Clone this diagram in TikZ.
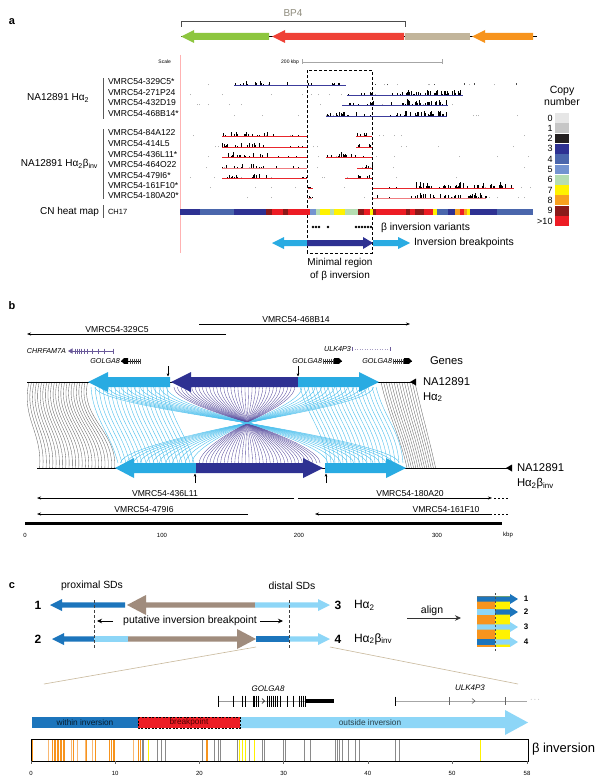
\documentclass[tikz,border=0pt]{standalone}
\usepackage{fontspec}
\setmainfont{Liberation Sans}
\usetikzlibrary{arrows.meta}
\newcommand\fsz[1]{\fontsize{#1}{#1}\selectfont}
\definecolor{ggreen}{HTML}{8DC63F}
\definecolor{gred}{HTML}{EF4136}
\definecolor{gtan}{HTML}{C2B59B}
\definecolor{gorange}{HTML}{F7941D}
\definecolor{bpgray}{HTML}{8E8B7C}
\definecolor{trkblue}{HTML}{3C3C9C}
\definecolor{trkred}{HTML}{E8262C}
\definecolor{trkpink}{HTML}{F07C80}
\definecolor{cn0}{HTML}{E6E6E6}
\definecolor{cn1}{HTML}{C6C6C6}
\definecolor{cn2}{HTML}{231F20}
\definecolor{cn3}{HTML}{2E3192}
\definecolor{cn4}{HTML}{4A66AC}
\definecolor{cn5}{HTML}{7393D0}
\definecolor{cn6}{HTML}{B5DDB2}
\definecolor{cn7}{HTML}{FFF200}
\definecolor{cn8}{HTML}{F7A01F}
\definecolor{cn9}{HTML}{8B1A1A}
\definecolor{cn10}{HTML}{ED1C24}
\definecolor{lblue}{HTML}{29ABE2}
\definecolor{lbln}{HTML}{4CC0EE}
\definecolor{navy}{HTML}{2E3192}
\definecolor{navyln}{HTML}{5A4FA0}
\definecolor{dblue}{HTML}{1C75BC}
\definecolor{pblue}{HTML}{8DD6F7}
\definecolor{cbrown}{HTML}{A08C7D}
\definecolor{zoomtan}{HTML}{C9B99C}
\definecolor{purpln}{HTML}{6A5A9A}
\definecolor{vorange}{HTML}{F7941D}
\definecolor{vlorange}{HTML}{F9B872}
\definecolor{vgray}{HTML}{8A8A8A}
\definecolor{vyellow}{HTML}{FFF200}
% block arrows: tail x, tip x, y, shaft half, head half, head length, colour
\newcommand\ArrR[7]{\fill[#7] (#1,#3-#4) -- (#2-#6,#3-#4) -- (#2-#6,#3-#5) -- (#2,#3) -- (#2-#6,#3+#5) -- (#2-#6,#3+#4) -- (#1,#3+#4) -- cycle;}
\newcommand\ArrL[7]{\fill[#7] (#2,#3-#4) -- (#1+#6,#3-#4) -- (#1+#6,#3-#5) -- (#1,#3) -- (#1+#6,#3+#5) -- (#1+#6,#3+#4) -- (#2,#3+#4) -- cycle;}
\newcommand\histo[6]{\foreach \kk in {1,...,#4}{\pgfmathsetmacro\hx{#1+rnd*(#2-#1)}\pgfmathsetmacro\hh{0.6+rnd*#5}\draw[#6,line width=0.45pt] (\hx,#3) -- (\hx,#3-\hh);}}
\newcommand\crossln[3]{\draw[#3] (#1,387) .. controls (#1,400) and ({247+(#1-247)*0.35},414) .. (247,423) .. controls ({247+(#2-247)*0.35},432) and (#2,450) .. (#2,463);}
\begin{document}
\begin{tikzpicture}[x=1pt,y=-1pt,
  every node/.style={inner sep=0pt,outer sep=0pt},
  clab/.style={font=\fsz{8.6},anchor=west},
  blab/.style={font=\fsz{8.6}},
  glab/.style={font=\itshape\fsz{7.2}},
  tlab/.style={font=\fsz{6}},
  glin/.style={color=black!60,line width=0.35pt},
  lbthin/.style={color=lbln,line width=0.4pt},
  nvthin/.style={color=navyln,line width=0.35pt},
  clone/.style={line width=0.6pt,-{Stealth[length=4pt,width=3pt]}},
  tinyarr/.style={line width=0.45pt,-{Stealth[length=3.2pt,width=2.6pt]}},
  dsh/.style={dash pattern=on 3pt off 2pt,line width=0.5pt},
  pnl/.style={font=\bfseries\fsz{11}}]
\useasboundingbox (0,0) rectangle (603,784);
\fill[white] (0,0) rectangle (603,784);
\pgfmathsetseed{42}
% ================= panel a =================
\node[pnl] (pa) at (12,22) {a};
\node[font=\fsz{10},text=bpgray] (bp4) at (293,13) {BP4};
\draw[black!70,line width=0.6pt] (181,27) -- (181,21) -- (405,21) -- (405,27);
\draw[black,line width=0.5pt] (181,36.5) -- (537,36.5);
\ArrL{181}{269}{36.5}{3.5}{6.5}{13}{ggreen}
\ArrL{272}{404}{36.5}{3.5}{6.5}{13}{gred}
\fill[gtan] (405,33) rectangle (470,40);
\ArrL{472}{533}{36.5}{3.5}{6.5}{13}{gorange}
\node[font=\fsz{5},anchor=east] (scl) at (171,62) {Scale};
\node[font=\fsz{5},anchor=east] (kbp) at (299,62) {200 kbp};
\draw[black!35,line width=0.6pt] (302,62) -- (442,62) (302,59.5) -- (302,64.5) (442,59.5) -- (442,64.5);
\draw[red!30,line width=0.5pt] (180,55) -- (180,253);
\draw[dsh] (307,253) -- (307,70) -- (372,70) -- (372,253) -- cycle;
% group labels
\node[font=\fsz{10},anchor=east] (g1) at (89,98) {NA12891 Hα\textsubscript{2}};
\node[font=\fsz{10},anchor=east] (g2) at (98,164) {NA12891 Hα\textsubscript{2}β\textsubscript{inv}};
\node[font=\fsz{10},anchor=east] (g3) at (99,212) {CN heat map};
\node[font=\fsz{7.5},anchor=west] (ch) at (108,212) {CH17};
\draw[black!65,line width=0.8pt] (103,78) -- (103,119) (103,129) -- (103,199) (103,205) -- (103,218);
\node[clab] (c1) at (108,82) {VMRC54-329C5*};
\node[clab] (c2) at (108,92.5) {VMRC54-271P24};
\node[clab] (c3) at (108,103) {VMRC54-432D19};
\node[clab] (c4) at (108,113.5) {VMRC54-468B14*};
\node[clab] (c5) at (108,133) {VMRC54-84A122};
\node[clab] (c6) at (108,144) {VMRC54-414L5};
\node[clab] (c7) at (108,155) {VMRC54-436L11*};
\node[clab] (c8) at (108,165) {VMRC54-464O22};
\node[clab] (c9) at (108,175.5) {VMRC54-479I6*};
\node[clab] (c10) at (108,186) {VMRC54-161F10*};
\node[clab] (c11) at (108,196) {VMRC54-180A20*};
% faint background ticks
\foreach \yy in {85,95,105,116,136,147,157,168,178,188,198}{\histo{185}{530}{\yy}{9}{0.6}{black!30}}
% Halpha2 tracks
\draw[trkblue,line width=0.6pt] (234,85) -- (346,85);
\histo{234}{346}{85}{14}{2.5}{black}\histo{240}{270}{85}{8}{4}{black}
\histo{350}{530}{85}{7}{1.5}{black!70}
\draw[trkblue,line width=0.6pt] (347,95) -- (463,95);
\histo{347}{463}{95}{20}{3}{black}\histo{405}{460}{95}{30}{5}{black}
\draw[trkblue,line width=0.6pt] (342,105) -- (448,105);
\histo{342}{448}{105}{18}{3}{black}\histo{405}{448}{105}{22}{5}{black}
\draw[trkblue,line width=0.6pt] (326,116) -- (447,116);
\histo{326}{447}{116}{18}{3}{black}\histo{405}{447}{116}{22}{5}{black}\histo{335}{345}{116}{6}{4}{black}
% Halpha2beta tracks
\foreach \yy/\cc in {136/trkred,147/trkred,157/trkred,168/trkpink,178/trkred}{
  \draw[\cc,line width=0.6pt] (222,\yy) -- (307,\yy);
  \histo{222}{268}{\yy}{16}{4}{black}\histo{268}{307}{\yy}{3}{1.5}{black}}
\draw[trkred,line width=0.6pt] (356,136) -- (372,136) (356,147) -- (372,147) (357,168) -- (372,168) (345,178) -- (372,178);
\draw[trkred,line width=0.6pt] (326,157) -- (372,157);
\foreach \yy in {136,147,168,178}{\histo{356}{372}{\yy}{5}{3}{black}}
\histo{326}{372}{157}{9}{3}{black}\histo{336}{346}{157}{6}{4}{black}
\draw[trkred,line width=0.6pt] (308,188) -- (313,188) (373,188) -- (514,188);
\draw[trkpink,line width=0.6pt] (308,198) -- (312,198) (373,198) -- (486,198);
\histo{308}{313}{188}{3}{2}{black}\histo{308}{312}{198}{3}{2}{black}
\histo{373}{514}{188}{14}{2.5}{black}\histo{415}{514}{188}{40}{5}{black}
\histo{373}{486}{198}{12}{2.5}{black}\histo{415}{486}{198}{30}{4}{black}
% heat map
\foreach \a/\b/\c in {180/200/cn3,200/234/cn4,234/266/cn3,266/272/cn9,272/283/cn10,283/288/cn9,288/310/cn10,310/316/cn5,316/320/cn6,320/330/cn7,330/334/cn6,334/345/cn7,345/358/cn6,358/364/cn9,364/370/cn10,370/373/cn7,373/376/cn9,376/406/cn10,406/410/cn9,410/415/cn10,415/424/cn9,424/433/cn10,433/437/cn7,437/448/cn4,448/455/cn3,455/460/cn8,460/464/cn10,464/467/cn8,467/470/cn7,470/497/cn3,497/533/cn4}{\fill[\c] (\a,209) rectangle (\b,215);}
% legend
\node[font=\fsz{10.5}] (cp1) at (562,91) {Copy};
\node[font=\fsz{10.5}] (cp2) at (562,102) {number};
\foreach \n/\t in {0/0,1/1,2/2,3/3,4/4,5/5,6/6,7/7,8/8,9/9,10/>10}{
  \fill[cn\n] (555,113+\n*10.3) rectangle (569,113+\n*10.3+9.8);
  \node[font=\fsz{9},anchor=east] (lg\n) at (552.5,118+\n*10.3) {\t};}
% variants and breakpoints
\foreach \x in {313,316,319,328,356,359,362,365,368,371}{\fill[black] (\x,227) circle (1.3);}
\node[font=\fsz{10.3},anchor=west] (biv) at (381,227.5) {β inversion variants};
\ArrL{272}{307}{243}{3}{6}{12}{lblue}
\ArrR{307}{373}{243}{3}{6}{10}{navy}
\ArrR{373}{410}{243}{3}{6}{12}{lblue}
\node[font=\fsz{10.5},anchor=west] (ibp) at (414,243) {Inversion breakpoints};
\node[font=\fsz{10}] (mr1) at (340,263) {Minimal region};
\node[font=\fsz{10}] (mr2) at (340,276) {of β inversion};
% ================= panel b =================
\node[pnl] (pb) at (12,306) {b};
\draw[clone] (199,324) -- (410,324);
\node[blab] (b1) at (296,320) {VMRC54-468B14};
\draw[clone] (226,334) -- (27,334);
\node[blab] (b2) at (117,330) {VMRC54-329C5};
% genes
\node[glab,anchor=east] (chr) at (66,351) {CHRFAM7A};
\draw[purpln,line width=0.5pt] (70,351) -- (113,351);
\fill[purpln] (68,351) -- (72.5,348.3) -- (72.5,353.7) -- cycle;
\foreach \x in {75,77,79,81,84,87,92,98,104,113}{\draw[purpln,line width=0.5pt] (\x,348.5) -- (\x,353.5);}
\node[glab,anchor=east] (ulk) at (351,349) {ULK4P3};
\draw[purpln!60,line width=0.5pt,dotted] (352,349) -- (390,349);
\draw[purpln,line width=0.5pt] (352,347) -- (352,351) (390,347) -- (390,351);
\node[glab,anchor=east] (gb1) at (120,361) {GOLGA8};
\draw[black,line width=0.4pt] (121,361) -- (140,361);
\fill[black] (121,361) -- (124,358.2) -- (128,358.2) -- (128,363.8) -- (124,363.8) -- cycle;
\foreach \x in {130,132,134,136,138,140}{\draw[black!70,line width=0.6pt] (\x,358.5) -- (\x,363.5);}
\node[glab,anchor=east] (gb2) at (322,361) {GOLGA8};
\draw[black,line width=0.4pt] (323,361) -- (342,361);
\foreach \x in {323,325,327,329,331,333}{\draw[black!70,line width=0.6pt] (\x,358.5) -- (\x,363.5);}
\fill[black] (334,358.2) -- (339,358.2) -- (342,361) -- (339,363.8) -- (334,363.8) -- cycle;
\node[glab,anchor=east] (gb3) at (392,361) {GOLGA8};
\draw[black,line width=0.4pt] (393,361) -- (412,361);
\foreach \x in {393,395,397,399,401,403}{\draw[black!70,line width=0.6pt] (\x,358.5) -- (\x,363.5);}
\fill[black] (404,358.2) -- (409,358.2) -- (412,361) -- (409,363.8) -- (404,363.8) -- cycle;
\node[font=\fsz{11.2},anchor=west] (genes) at (430,361) {Genes};
% connecting lines
\foreach \ii in {0,...,23}{
  \pgfmathsetmacro\xt{29+\ii*2.55}\pgfmathsetmacro\xb{37+(\xt-27)*1.28}
  \draw[glin] (\xt,382) .. controls (\xt-8,418) and (\xb+3,432) .. (\xb,468);}
\foreach \ii in {0,...,13}{
  \pgfmathsetmacro\xt{381+\ii*2.6}\pgfmathsetmacro\xb{407+\ii*2.2}
  \draw[glin] (\xt,382) .. controls (\xt+8,418) and (\xb-8,432) .. (\xb,468);}
\foreach \ii in {0,...,19}{
  \pgfmathsetmacro\xt{91+\ii*4}\pgfmathsetmacro\xb{\xt+27}
  \draw[lbthin] (\xt,387) .. controls (\xt+2,418) and (\xb-8,432) .. (\xb,463);
  \pgfmathsetmacro\xu{300+\ii*4}\pgfmathsetmacro\xv{\xu+27}
  \draw[lbthin] (\xu,387) .. controls (\xu+8,418) and (\xv-2,432) .. (\xv,463);}
\foreach \ii in {0,...,34}{
  \pgfmathsetmacro\xt{174+\ii*3.55}\pgfmathsetmacro\xb{494-\xt}
  \crossln{\xt}{\xb}{nvthin}}
\foreach \ii in {0,...,11}{
  \pgfmathsetmacro\xt{95+\ii*6.5}\pgfmathsetmacro\xb{494-\xt}
  \crossln{\xt}{\xb}{lbthin}
  \pgfmathsetmacro\xu{302+\ii*6.5}\pgfmathsetmacro\xv{494-\xu}
  \crossln{\xu}{\xv}{lbthin}}
% chromosome lines and arrows
\draw[black,line width=0.6pt] (27,382) -- (416,382);
\fill[black] (416,378.5) -- (416,385.5) -- (410,382) -- cycle;
\ArrL{88}{170}{382}{5}{10}{20}{lblue}
\ArrL{171}{298}{382}{5}{10}{20}{navy}
\ArrR{298}{379}{382}{5}{10}{20}{lblue}
\draw[black,line width=0.6pt] (37,468) -- (512,468);
\fill[black] (512,464.5) -- (512,471.5) -- (506,468) -- cycle;
\ArrL{115}{196}{468}{5}{10}{19}{lblue}
\ArrR{196}{323}{468}{5}{10}{20}{navy}
\ArrR{325}{406}{468}{5}{10}{20}{lblue}
\coordinate (da1) at (168,366); \coordinate (da2) at (168,376.5);
\coordinate (db1) at (298,366); \coordinate (db2) at (298,376.5);
\coordinate (ua1) at (195,483); \coordinate (ua2) at (195,473.5);
\coordinate (ub1) at (326,483); \coordinate (ub2) at (326,473.5);
\draw[tinyarr] (da1) -- (da2);
\draw[tinyarr] (db1) -- (db2);
\draw[tinyarr] (ua1) -- (ua2);
\draw[tinyarr] (ub1) -- (ub2);
\node[font=\fsz{11.3},anchor=west] (h1a) at (423,382) {NA12891};
\node[font=\fsz{11.3},anchor=west] (h1b) at (423,397) {Hα\textsubscript{2}};
\node[font=\fsz{11.3},anchor=west] (h2a) at (517,468) {NA12891};
\node[font=\fsz{11.3},anchor=west] (h2b) at (517,484) {Hα\textsubscript{2}β\textsubscript{inv}};
% clones below
\draw[clone] (294,498) -- (37,498);
\node[blab] (b3) at (165,494) {VMRC54-436L11};
\draw[clone] (298,498) -- (492,498);
\draw[line width=0.6pt,dash pattern=on 2pt off 2pt] (494,498) -- (508,498);
\node[blab] (b4) at (410,494) {VMRC54-180A20};
\draw[clone] (248,514) -- (37,514);
\node[blab] (b5) at (144,510) {VMRC54-479I6};
\draw[clone] (492,514) -- (315,514);
\draw[line width=0.6pt,dash pattern=on 2pt off 2pt] (494,514) -- (508,514);
\node[blab] (b6) at (446,510) {VMRC54-161F10};
\fill[black] (25,521.5) rectangle (502,525);
\node[tlab] (t0) at (25,535) {0};
\node[tlab] (t100) at (162,535) {100};
\node[tlab] (t200) at (299,535) {200};
\node[tlab] (t300) at (437,535) {300};
\node[tlab] (tkbp) at (508,535) {kbp};
% ================= panel c =================
\node[pnl] (pc) at (12,586) {c};
\node[font=\fsz{10.4}] (prox) at (92,586) {proximal SDs};
\node[font=\fsz{10.4}] (dist) at (292,586) {distal SDs};
\ArrL{50}{125}{605}{2.6}{6}{12}{dblue}
\ArrL{127}{255}{605}{2.6}{10}{19}{cbrown}
\ArrR{255}{330}{605}{2.6}{6}{12}{pblue}
\ArrL{52}{94}{639}{2.6}{6}{12}{dblue}
\fill[pblue] (94,636.4) rectangle (128,641.6);
\ArrR{128}{256}{639}{2.6}{10}{19}{cbrown}
\fill[dblue] (256,636.4) rectangle (289,641.6);
\ArrR{289}{330}{639}{2.6}{6}{12}{pblue}
\draw[dsh,black!75,line width=0.6pt] (94,600) -- (94,648) (289,600) -- (289,648);
\node[font=\bfseries\fsz{12}] (r1) at (38,605) {1};
\node[font=\bfseries\fsz{12}] (r2) at (38,639) {2};
\node[font=\bfseries\fsz{12}] (r3) at (338,605) {3};
\node[font=\bfseries\fsz{12}] (r4) at (338,639) {4};
\node[font=\fsz{12},anchor=west] (ha) at (354,605) {Hα\textsubscript{2}};
\node[font=\fsz{12},anchor=west] (hb) at (354,639) {Hα\textsubscript{2}β\textsubscript{inv}};
\node[font=\fsz{10.5}] (put) at (190,621) {putative inversion breakpoint};
\coordinate (pl1) at (113,621); \coordinate (pl2) at (97,621);
\coordinate (pr1) at (260,621); \coordinate (pr2) at (283,621);
\draw[line width=0.7pt,-{Stealth[length=5pt,width=4.5pt]}] (pl1) -- (pl2);
\draw[line width=0.7pt,-{Stealth[length=5pt,width=4.5pt]}] (pr1) -- (pr2);
\node[font=\fsz{10.5}] (aln) at (432,611) {align};
\coordinate (al1) at (407,618); \coordinate (al2) at (461,618);
\draw[line width=0.8pt,black!80,-{Stealth[length=6pt,width=5.5pt]}] (al1) -- (al2);
\fill[gorange] (477,596) rectangle (495,647);
\fill[vyellow] (495,596) rectangle (510,647);
\ArrR{477}{518}{599}{2.6}{5}{8}{dblue}
\fill[pblue] (477,609.4) rectangle (495,614.6);
\ArrR{495}{518}{612}{2.6}{5}{8}{dblue}
\ArrR{477}{518}{627}{2.6}{5}{8}{pblue}
\fill[dblue] (477,639.4) rectangle (495,644.6);
\ArrR{495}{518}{642}{2.6}{5}{8}{pblue}
\draw[dsh,black!70,line width=0.5pt,dash pattern=on 2pt off 2pt] (495,593) -- (495,652);
\foreach \n/\yy in {1/599,2/612,3/627,4/642}{\node[font=\bfseries\fsz{8}] (m\n) at (526,\yy) {\n};}
\draw[zoomtan,line width=0.6pt] (256,647) -- (44,684);
\draw[zoomtan,line width=0.6pt] (330,647) -- (518,684);
% genes c
\node[font=\itshape\fsz{8}] (g8c) at (268,689) {GOLGA8};
\draw[black!40,line width=0.7pt] (218,701) -- (334,701);
\foreach \x in {218.5,233,242,245,253,254.5,256,258,267,269,271,273,275,277,280,287,293,299,301,303,305}{\draw[black,line width=0.55pt] (\x,695.5) -- (\x,706.5);}
\draw[black,line width=0.6pt] (262,698.5) -- (264.5,701) -- (262,703.5);
\fill[black] (306,698.7) rectangle (334,703.3);
\node[font=\itshape\fsz{8}] (ulc) at (470,688) {ULK4P3};
\draw[black!35,line width=0.7pt] (395,701) -- (527,701);
\draw[black,line width=1.6pt] (395.5,696.5) -- (395.5,705.5);
\draw[black!60,line width=0.6pt] (449,697) -- (449,705) (505,697) -- (505,705);
\draw[black!60,line width=0.6pt] (472,698.5) -- (475,701) -- (472,703.5);
\node[font=\fsz{7},text=black!60] (dots) at (535,700) {$\cdots$};
% big arrow
\fill[dblue] (32,717) rectangle (138,728);
\fill[cn10] (138,717) rectangle (240,728);
\ArrR{240}{528}{722.5}{5.5}{12.5}{23}{pblue}
\draw[black,line width=0.7pt,dash pattern=on 2pt off 1.5pt] (138,717) rectangle (240,728);
\node[font=\fsz{8.3},text=black!75!dblue] (wi) at (85,722.5) {within inversion};
\node[font=\fsz{8.3},text=black!70!red] (brk) at (189,722.5) {breakpoint};
\node[font=\fsz{8.3},text=black!70!pblue] (oi) at (370,722.5) {outside inversion};
% variant bar
\foreach \x in {32,52,54,55.5,57,58.5,60,61.5,63,64.5,73,86,95,109,111,113,114,138,140,206,207.5}{\draw[vorange,line width=0.9pt] (\x,739) -- (\x,761);}
\foreach \x in {48,71,77,85,92,133}{\draw[vlorange,line width=0.8pt] (\x,739) -- (\x,761);}
\foreach \x in {142,143.5,157,161,165,202,214,218,220,237,249,262,264,283,285,304,310,335,337,339,342,348,355,359,395,399}{\draw[vgray,line width=0.7pt] (\x,739) -- (\x,761);}
\foreach \x in {148,239,242,245,254,480}{\draw[vyellow,line width=0.9pt] (\x,739) -- (\x,761);}
\draw[black,line width=0.8pt] (31,739) rectangle (528,761);
\foreach \u in {0,10,20,30,40,50}{
  \draw[black!60,line width=0.4pt] ({31+\u*8.42},761) -- ({31+\u*8.42},764);
  \node[tlab] (v\u) at ({31+\u*8.42},773) {\u};}
\draw[black!60,line width=0.4pt] (527,761) -- (527,764);
\node[tlab] (v58) at (527,773) {58};
\node[font=\fsz{13},anchor=west] (binv) at (532,749) {β inversion};
\end{tikzpicture}
\end{document}
